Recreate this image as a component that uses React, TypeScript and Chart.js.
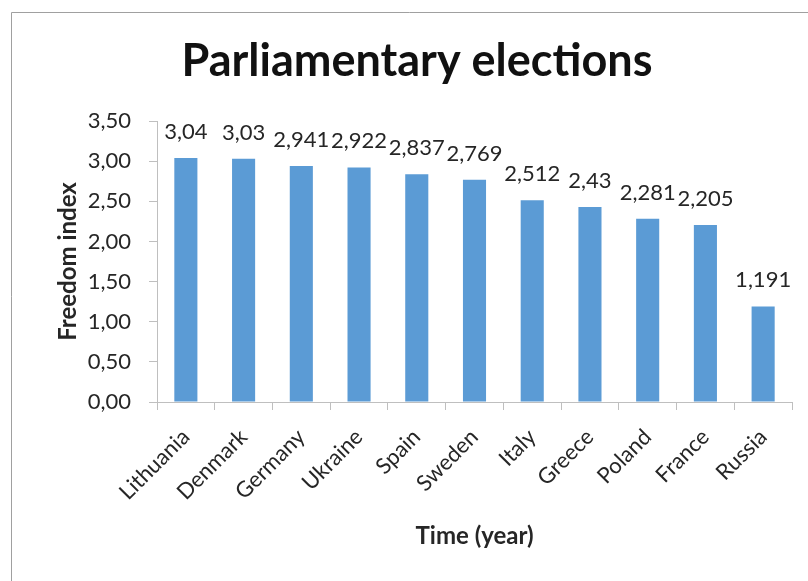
import React, { useEffect, useRef } from "react";
import { Chart, registerables } from "chart.js";
Chart.register(...registerables);

const titleText = "Parliamentary elections";
const categories = ["Lithuania", "Denmark", "Germany", "Ukraine", "Spain", "Sweden", "Italy", "Greece", "Poland", "France", "Russia"];
const values = [3.04, 3.03, 2.941, 2.922, 2.837, 2.769, 2.512, 2.43, 2.281, 2.205, 1.191];
const yMin = 0;
const yMax = 3.5;
const yStep = 0.5;
const yTitle = "Freedom index";
const xTitle = "Time (year)";

const FONT = "Lato, 'Open Sans', sans-serif";
const TEXT = "#262626";
const AXIS = "#bfbfbf";

const fmt = (v: number, d?: number) =>
  (d === undefined ? String(v) : v.toFixed(d)).replace(".", ",");

export default function App() {
  const ref = useRef<HTMLCanvasElement | null>(null);
  useEffect(() => {
    if (!ref.current) return;
    const framePlugin = {
      id: "frame",
      beforeDraw(chart: any) {
        const ctx = chart.ctx;
        ctx.save();
        ctx.fillStyle = "#ffffff";
        ctx.fillRect(0, 0, chart.width, chart.height);
        ctx.strokeStyle = "#a0a0a0";
        ctx.lineWidth = 1;
        ctx.beginPath();
        ctx.moveTo(11.5, chart.height);
        ctx.lineTo(11.5, 12.5);
        ctx.lineTo(chart.width, 12.5);
        ctx.stroke();
        ctx.fillStyle = "#111111";
        ctx.font = `bold 45px ${FONT}`;
        ctx.textAlign = "center";
        ctx.textBaseline = "alphabetic";
        ctx.fillText(titleText, 417, 76);
        ctx.restore();
      },
    };
    const labelPlugin = {
      id: "valueLabels",
      afterDatasetsDraw(chart: any) {
        const ctx = chart.ctx;
        const meta = chart.getDatasetMeta(0);
        ctx.save();
        ctx.fillStyle = TEXT;
        ctx.font = `22px ${FONT}`;
        ctx.textAlign = "center";
        ctx.textBaseline = "alphabetic";
        meta.data.forEach((bar: any, i: number) => {
          ctx.fillText(fmt(values[i]), bar.x, bar.y - 19);
        });
        ctx.restore();
      },
    };
    const chart = new Chart(ref.current, {
      type: "bar",
      data: {
        labels: categories,
        datasets: [
          {
            data: values,
            backgroundColor: "#5b9bd5",
            borderWidth: 0,
            categoryPercentage: 1,
            barPercentage: 0.4,
          },
        ],
      },
      options: {
        responsive: false,
        animation: false,
        layout: { padding: { left: 50, right: 16, top: 121, bottom: 26 } },
        plugins: { legend: { display: false }, title: { display: false }, tooltip: { enabled: false } },
        scales: {
          x: {
            grid: { display: true, drawOnChartArea: false, drawTicks: true, tickLength: 8, color: AXIS, offset: true },
            border: { display: true, color: AXIS },
            ticks: { color: TEXT, font: { family: FONT, size: 22 }, minRotation: 45, maxRotation: 45, autoSkip: false, padding: 14 },
            title: { display: true, text: xTitle, color: TEXT, font: { family: FONT, size: 24, weight: "bold" } },
            afterFit(scale: any) {
              scale.height = 153;
            },
          },
          y: {
            min: yMin,
            max: yMax,
            grid: { display: true, drawOnChartArea: false, drawTicks: true, tickLength: 8, color: AXIS },
            border: { display: true, color: AXIS },
            ticks: {
              stepSize: yStep,
              color: TEXT,
              padding: 18,
              font: { family: FONT, size: 22 },
              callback: (v: any) => fmt(Number(v), 2),
            },
            title: { display: true, text: yTitle, color: TEXT, font: { family: FONT, size: 24, weight: "bold" } },
            afterFit(scale: any) {
              scale.width = 107;
            },
          },
        },
      },
      plugins: [framePlugin, labelPlugin],
    } as any);
    return () => chart.destroy();
  }, []);
  return (
    <div style={{ position: "fixed", left: 0, top: 0, width: 808, height: 581, background: "#fff" }}>
      <canvas ref={ref} width={808} height={581} />
    </div>
  );
}
